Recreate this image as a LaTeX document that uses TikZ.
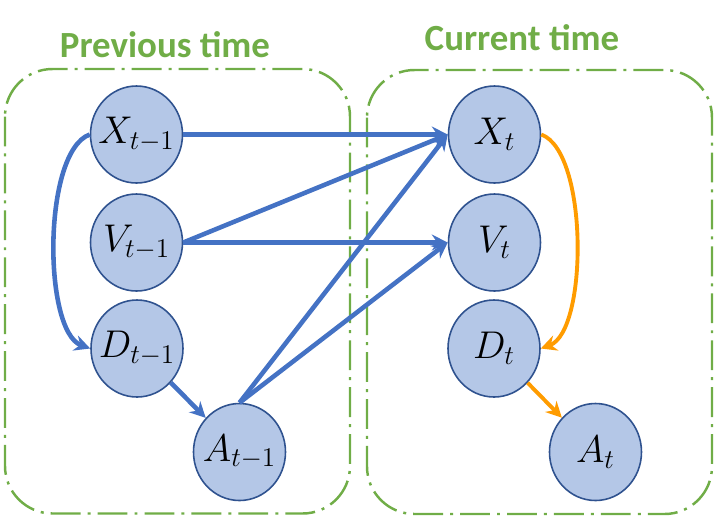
\RequirePackage{fix-cm}
\documentclass[tikz,border=0pt]{standalone}
\usepackage{fontspec}
\newfontfamily\titlefont{Carlito}
\usepackage{tikz}
\usetikzlibrary{arrows.meta, shapes.geometric}
\definecolor{nodefill}{HTML}{B4C7E7}
\definecolor{nodeline}{HTML}{2F528F}
\definecolor{edgeblue}{HTML}{4472C4}
\definecolor{edgeorange}{HTML}{FF9C00}
\definecolor{boxgreen}{HTML}{70AD47}
% zero-width label so every circle keeps the same size
\newcommand{\vlab}[1]{\makebox[0pt]{$#1$}}

\begin{document}
\begin{tikzpicture}[
    var/.style={ellipse, draw=nodeline, line width=0.9pt, fill=nodefill,
                minimum width=1.84cm, minimum height=1.94cm, inner sep=0pt,
                font=\fontsize{22}{26}\selectfont},
    slice/.style={draw=boxgreen, line width=1.4pt, rounded corners=0.95cm,
                  dash pattern=on 17pt off 4pt on 1.7pt off 4pt},
    ttl/.style={text=boxgreen, font=\titlefont\bfseries\fontsize{21}{24}\selectfont,
                anchor=base},
    barr/.style={-{Stealth[length=9pt, width=9pt, inset=3pt]},
                 line width=2.6pt, edgeblue},
    oarr/.style={-{Stealth[length=9pt, width=9pt, inset=3pt]},
                 line width=2.2pt, edgeorange},
]
  \useasboundingbox (0,0) rectangle (14.28,-10.32);

  % Time slices
  \draw[slice] (0.10,-1.38) rectangle (7.00,-10.27);
  \draw[slice] (7.34,-1.40) rectangle (14.24,-10.28);
  \node[ttl] (tprev) at (3.30,-1.14) {Previous time};
  \node[ttl] (tcurr) at (10.44,-1.00) {Current time};

  % Previous time
  \node[var] (X1) at (2.73,-2.69) {\vlab{X_{t-1}}};
  \node[var] (V1) at (2.73,-4.85) {\vlab{V_{t-1}}};
  \node[var] (D1) at (2.74,-6.97) {\vlab{D_{t-1}}};
  \node[var] (A1) at (4.79,-9.04) {\vlab{A_{t-1}}};

  % Current time
  \node[var] (X2) at (9.89,-2.69) {\vlab{X_t}};
  \node[var] (V2) at (9.89,-4.85) {\vlab{V_t}};
  \node[var] (D2) at (9.88,-6.97) {\vlab{D_t}};
  \node[var] (A2) at (11.91,-9.04) {\vlab{A_t}};

  % Within previous time
  \draw[barr] (X1.west) to[out=200, in=160, looseness=0.6] (D1.west);
  \draw[barr] (D1) -- (A1);

  % Previous -> current
  \draw[barr] (X1.east) -- (X2.west);
  \draw[barr] (V1.east) -- (X2.west);
  \draw[barr] (V1.east) -- (V2.west);
  \draw[barr] (A1.north) -- (X2.west);
  \draw[barr] (A1.north) -- (V2.west);

  % Within current time
  \draw[oarr] (X2.east) to[out=-20, in=20, looseness=0.6] (D2.east);
  \draw[oarr] (D2) -- (A2);

\end{tikzpicture}
\end{document}
